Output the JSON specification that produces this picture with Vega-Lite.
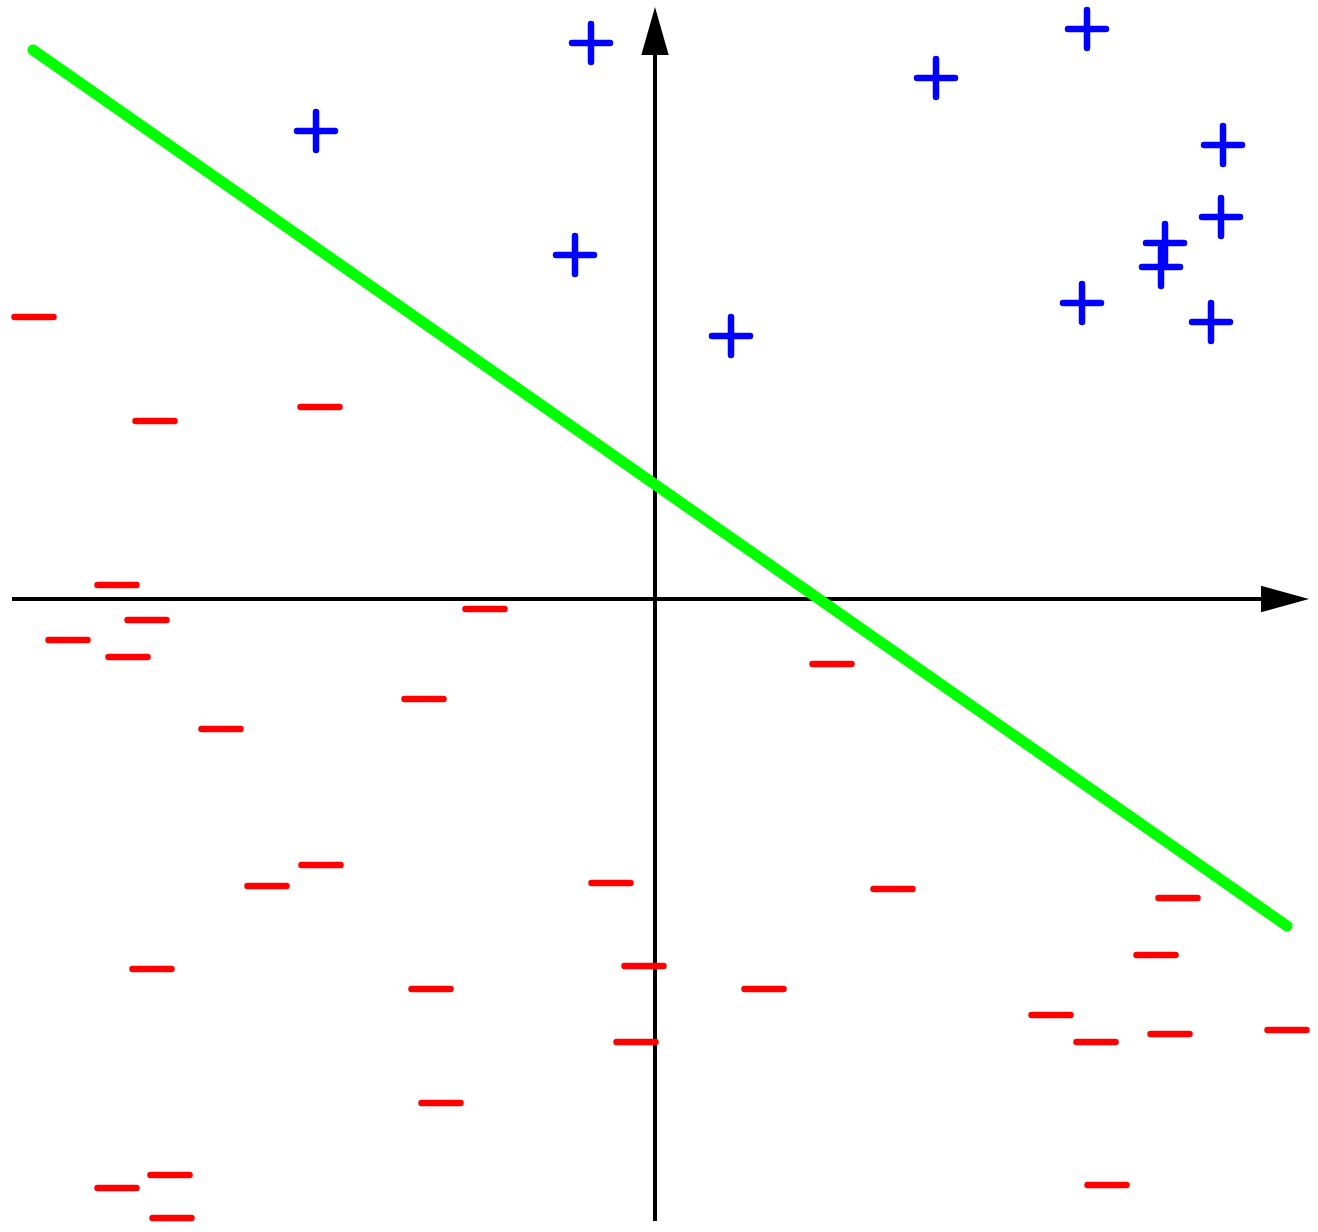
{
  "$schema": "https://vega.github.io/schema/vega-lite/v6.json",
  "width": 1318,
  "height": 1232,
  "padding": 0,
  "autosize": {"type": "none"},
  "background": "white",
  "config": {"view": {"stroke": null}},
  "datasets": {
    "axes": [
      {"name": "xaxis", "x": -643, "y": 0, "x2": 615, "y2": 0},
      {"name": "yaxis", "x": 0, "y": -622, "x2": 0, "y2": 555}
    ],
    "boundary": [
      {"x": -622, "y": 549, "x2": 632, "y2": -327}
    ],
    "arrowRight": [{"x": 630, "y": 0}],
    "arrowUp": [{"x": 0, "y": 568}],
    "positive": [
      {"x": -64, "y": 556},
      {"x": -339, "y": 468},
      {"x": -80, "y": 344},
      {"x": 76, "y": 263},
      {"x": 281, "y": 521},
      {"x": 432, "y": 570},
      {"x": 568, "y": 454},
      {"x": 566, "y": 382},
      {"x": 510, "y": 356},
      {"x": 506, "y": 332},
      {"x": 427, "y": 296},
      {"x": 556, "y": 277}
    ],
    "negative": [
      {"x": -621, "y": 282},
      {"x": -500, "y": 178},
      {"x": -335, "y": 192},
      {"x": -538, "y": 14},
      {"x": -170, "y": -10},
      {"x": -508, "y": -21},
      {"x": -587, "y": -41},
      {"x": -527, "y": -58},
      {"x": -231, "y": -100},
      {"x": -434, "y": -130},
      {"x": 177, "y": -65},
      {"x": -334, "y": -266},
      {"x": -388, "y": -287},
      {"x": -44, "y": -284},
      {"x": 238, "y": -290},
      {"x": 523, "y": -299},
      {"x": 501, "y": -356},
      {"x": -503, "y": -370},
      {"x": -11, "y": -367},
      {"x": -224, "y": -390},
      {"x": 109, "y": -390},
      {"x": 396, "y": -416},
      {"x": 441, "y": -443},
      {"x": 515, "y": -435},
      {"x": 632, "y": -431},
      {"x": -19, "y": -443},
      {"x": -214, "y": -504},
      {"x": -485, "y": -576},
      {"x": -538, "y": -589},
      {"x": -483, "y": -619},
      {"x": 452, "y": -586}
    ]
  },
  "resolve": {"scale": {"x": "shared", "y": "shared"}},
  "layer": [
    {
      "data": {"name": "axes"},
      "mark": {"type": "rule", "color": "black", "strokeWidth": 4},
      "encoding": {
        "x": {"field": "x", "type": "quantitative", "scale": {"domain": [-655, 663], "nice": false, "zero": false}, "axis": null},
        "y": {"field": "y", "type": "quantitative", "scale": {"domain": [-633, 599], "nice": false, "zero": false}, "axis": null},
        "x2": {"field": "x2"},
        "y2": {"field": "y2"}
      }
    },
    {
      "data": {"name": "arrowRight"},
      "mark": {"type": "point", "filled": true, "color": "black", "opacity": 1, "size": 2304, "strokeWidth": 0, "shape": "M-1,-0.55L1,0L-1,0.55Z"},
      "encoding": {
        "x": {"field": "x", "type": "quantitative"},
        "y": {"field": "y", "type": "quantitative"}
      }
    },
    {
      "data": {"name": "arrowUp"},
      "mark": {"type": "point", "filled": true, "color": "black", "opacity": 1, "size": 2304, "strokeWidth": 0, "shape": "M-0.57,1L0,-1L0.57,1Z"},
      "encoding": {
        "x": {"field": "x", "type": "quantitative"},
        "y": {"field": "y", "type": "quantitative"}
      }
    },
    {
      "data": {"name": "boundary"},
      "mark": {"type": "rule", "color": "#00ff00", "strokeWidth": 11, "strokeCap": "round"},
      "encoding": {
        "x": {"field": "x", "type": "quantitative"},
        "y": {"field": "y", "type": "quantitative"},
        "x2": {"field": "x2"},
        "y2": {"field": "y2"}
      }
    },
    {
      "data": {"name": "negative"},
      "mark": {"type": "point", "filled": false, "color": "#ff0000", "opacity": 1, "size": 1521, "strokeWidth": 6.5, "strokeCap": "round", "shape": "M-1,0L1,0"},
      "encoding": {
        "x": {"field": "x", "type": "quantitative"},
        "y": {"field": "y", "type": "quantitative"}
      }
    },
    {
      "data": {"name": "positive"},
      "mark": {"type": "point", "filled": false, "color": "#0000ff", "opacity": 1, "size": 1444, "strokeWidth": 6.5, "strokeCap": "round", "shape": "M-1,0L1,0M0,-1L0,1"},
      "encoding": {
        "x": {"field": "x", "type": "quantitative"},
        "y": {"field": "y", "type": "quantitative"}
      }
    }
  ]
}
